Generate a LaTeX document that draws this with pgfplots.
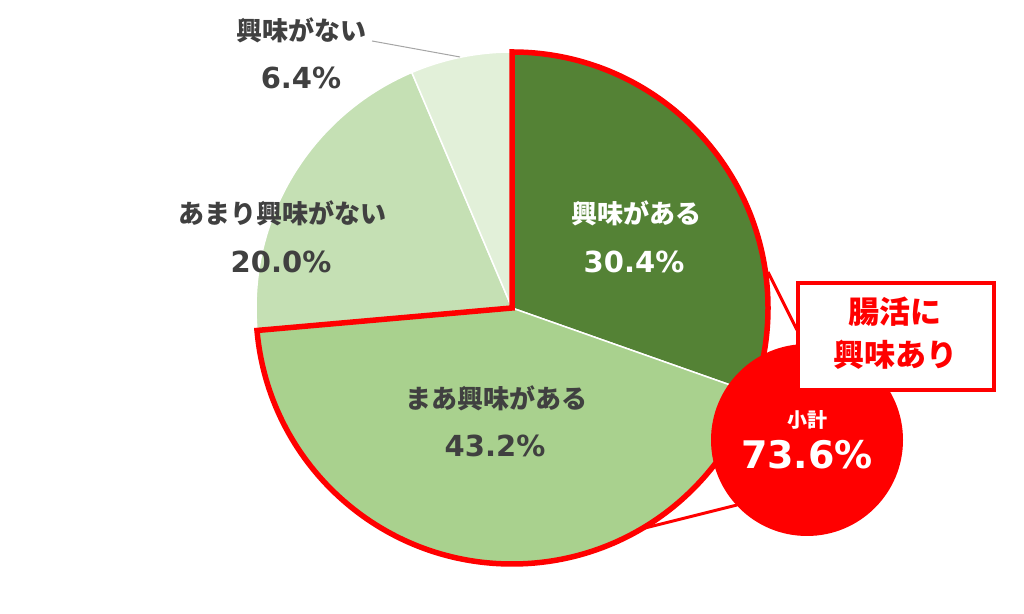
\documentclass[border=0pt]{standalone}
\usepackage{pgfplots}
\usepackage{pgfplotstable}
\pgfplotsset{compat=1.18}
\usepackage{fontspec}
\newfontfamily\jp{Noto Sans CJK JP}[BoldFont={Noto Sans CJK JP Black}]
\newfontfamily\num{DejaVu Sans}
\definecolor{sA}{HTML}{548235}
\definecolor{sB}{HTML}{A9D18E}
\definecolor{sC}{HTML}{C5E0B4}
\definecolor{sD}{HTML}{E2F0D9}
\definecolor{txt}{HTML}{404040}
\definecolor{lead}{HTML}{A6A6A6}
\definecolor{rd}{HTML}{FF0000}
\pgfplotstableread{
label value
a 30.4
b 43.2
c 20.0
d 6.4
}\piedata
\pgfplotstablegetelem{0}{value}\of\piedata \let\va\pgfplotsretval
\pgfplotstablegetelem{1}{value}\of\piedata \let\vb\pgfplotsretval
\pgfplotstablegetelem{2}{value}\of\piedata \let\vc\pgfplotsretval
\pgfplotstablegetelem{3}{value}\of\piedata \let\vd\pgfplotsretval
\pgfmathsetmacro\aA{90}
\pgfmathsetmacro\aB{\aA-3.6*\va}
\pgfmathsetmacro\aC{\aB-3.6*\vb}
\pgfmathsetmacro\aD{\aC-3.6*\vc}
\pgfmathsetmacro\aE{\aD-3.6*\vd}
\begin{document}
\begin{tikzpicture}
\begin{axis}[hide axis, x=0.5pt, y=0.5pt, xmin=0, xmax=1024, ymin=0, ymax=614, clip=false]
\coordinate (BL) at (axis cs:0,0);
\coordinate (TR) at (axis cs:1024,614);
\coordinate (O) at (axis cs:512,306);
% slices
\filldraw[fill=sA, draw=white, line width=0.75pt, line join=round] (O) -- ++(\aA:128pt) arc[start angle=\aA, end angle=\aB, radius=128pt] -- cycle;
\filldraw[fill=sB, draw=white, line width=0.75pt, line join=round] (O) -- ++(\aB:128pt) arc[start angle=\aB, end angle=\aC, radius=128pt] -- cycle;
\filldraw[fill=sC, draw=white, line width=0.75pt, line join=round] (O) -- ++(\aC:128pt) arc[start angle=\aC, end angle=\aD, radius=128pt] -- cycle;
\filldraw[fill=sD, draw=white, line width=0.75pt, line join=round] (O) -- ++(\aD:128pt) arc[start angle=\aD, end angle=\aE, radius=128pt] -- cycle;
% red outline of subtotal
\draw[rd, line width=2.75pt, line join=miter] (O) -- ++(\aA:128pt) arc[start angle=\aA, end angle=\aC, radius=128pt] -- cycle;
% callout lines
\draw[rd, line width=1.5pt] (axis cs:768,342) -- (axis cs:797,284);
\draw[rd, line width=1.5pt] (axis cs:637,84) -- (axis cs:737,109);
% leader
\draw[lead, line width=0.5pt] (axis cs:372,573) -- (axis cs:460,557);
% circle and box
\fill[rd] (axis cs:807,174) circle[radius=48pt];
\filldraw[fill=white, draw=rd, line width=2pt] (axis cs:798,224) rectangle (axis cs:994,331);
% labels
\node[inner sep=0, text=white, font=\jp\bfseries\fontsize{13pt}{15pt}\selectfont] at (axis cs:636,401) {興味がある};
\node[inner sep=0, text=white, font=\num\bfseries\fontsize{14.5pt}{17pt}\selectfont] at (axis cs:634,352) {30.4\%};
\node[inner sep=0, text=txt, font=\jp\bfseries\fontsize{13pt}{15pt}\selectfont] at (axis cs:496,216) {まあ興味がある};
\node[inner sep=0, text=txt, font=\num\bfseries\fontsize{14.5pt}{17pt}\selectfont] at (axis cs:495,168) {43.2\%};
\node[inner sep=0, text=txt, font=\jp\bfseries\fontsize{13pt}{15pt}\selectfont] at (axis cs:282,401) {あまり興味がない};
\node[inner sep=0, text=txt, font=\num\bfseries\fontsize{14.5pt}{17pt}\selectfont] at (axis cs:281,352) {20.0\%};
\node[inner sep=0, text=txt, font=\jp\bfseries\fontsize{13pt}{15pt}\selectfont] at (axis cs:301,584) {興味がない};
\node[inner sep=0, text=txt, font=\num\bfseries\fontsize{14.5pt}{17pt}\selectfont] at (axis cs:301,536) {6.4\%};
\node[inner sep=0, text=white, font=\jp\bfseries\fontsize{10pt}{12pt}\selectfont] at (axis cs:807,194) {小計};
\node[inner sep=0, text=white, font=\num\bfseries\fontsize{19pt}{22pt}\selectfont] at (axis cs:807,159) {73.6\%};
\node[inner sep=0, text=rd, font=\jp\bfseries\fontsize{15.5pt}{18pt}\selectfont] at (axis cs:895,302) {腸活に};
\node[inner sep=0, text=rd, font=\jp\bfseries\fontsize{15.5pt}{18pt}\selectfont] at (axis cs:895,259) {興味あり};
\end{axis}
\pgfresetboundingbox
\path[use as bounding box] (BL) rectangle (TR);
\end{tikzpicture}
\end{document}
